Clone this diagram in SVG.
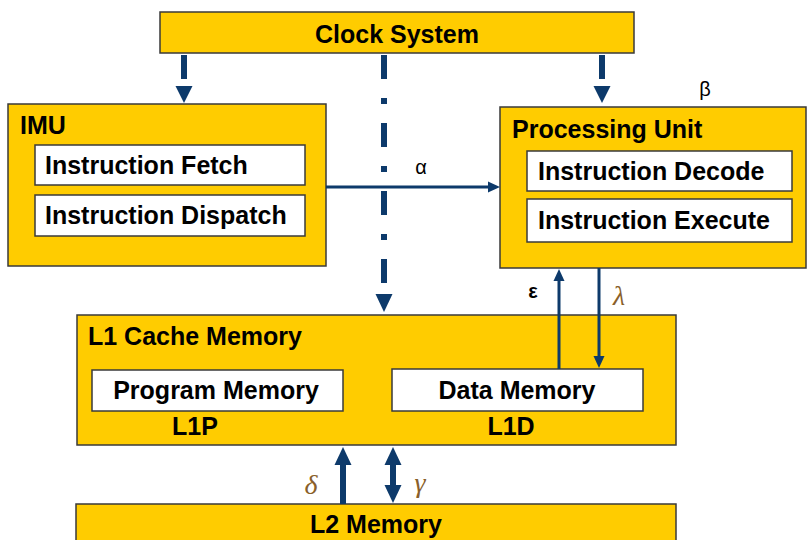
<svg xmlns="http://www.w3.org/2000/svg" width="807" height="540" viewBox="0 0 807 540">
<style>
.box{fill:#FFCC00;stroke:#3a3a3a;stroke-width:1.5}
.inner{fill:#FFFFFF;stroke:#3a3a3a;stroke-width:1.5}
.t{font-family:"Liberation Sans",Arial,sans-serif;font-weight:bold;font-size:25px;fill:#000}
.c{text-anchor:middle}
.thick{stroke:#0d3a6b;stroke-width:6;fill:none}
.thin{stroke:#0d3a6b;stroke-width:3;fill:none}
.head{fill:#0d3a6b}
.greek{font-family:"Liberation Sans",Arial,sans-serif;font-size:20px;fill:#000}
.math{font-family:"Liberation Serif","Times New Roman",serif;font-style:italic;font-size:28px;fill:#8a5f2a}
</style>
<defs>
<marker id="ah" markerUnits="userSpaceOnUse" markerWidth="12" markerHeight="12" refX="0" refY="5.5" orient="auto-start-reverse" viewBox="0 0 12 11">
<path d="M0,0 L12,5.5 L0,11 z" fill="#0d3a6b"/>
</marker>
<marker id="bh" markerUnits="userSpaceOnUse" markerWidth="18" markerHeight="18" refX="0" refY="8.5" orient="auto-start-reverse" viewBox="0 0 18 17">
<path d="M0,0 L18,8.5 L0,17 z" fill="#0d3a6b"/>
</marker>
</defs>

<g id="clock">
<rect class="box" x="160" y="12" width="474" height="41"/>
<text class="t c" x="397" y="43">Clock System</text>
</g>

<g id="imu">
<rect class="box" x="8" y="104" width="318" height="162"/>
<text class="t" x="20" y="134">IMU</text>
<rect class="inner" x="35" y="145" width="270" height="40"/>
<text class="t" x="45" y="174">Instruction Fetch</text>
<rect class="inner" x="35" y="195" width="270" height="41"/>
<text class="t" x="45" y="224">Instruction Dispatch</text>
</g>

<g id="pu">
<rect class="box" x="500" y="107" width="306" height="161"/>
<text class="t" x="512" y="138">Processing Unit</text>
<rect class="inner" x="527" y="151" width="265" height="40"/>
<text class="t" x="538" y="180">Instruction Decode</text>
<rect class="inner" x="527" y="199" width="265" height="43"/>
<text class="t" x="538" y="229">Instruction Execute</text>
</g>

<g id="l1">
<rect class="box" x="77" y="315" width="599" height="130"/>
<text class="t" x="88" y="345">L1 Cache Memory</text>
<rect class="inner" x="92" y="370" width="251" height="41"/>
<text class="t c" x="216" y="399">Program Memory</text>
<rect class="inner" x="392" y="369" width="251" height="42"/>
<text class="t c" x="517" y="399">Data Memory</text>
<text class="t c" x="195" y="435">L1P</text>
<text class="t c" x="511" y="435">L1D</text>
</g>

<g id="l2">
<rect class="box" x="76" y="504" width="600" height="45"/>
<text class="t c" x="376" y="533">L2 Memory</text>
</g>

<g id="connectors">
<line class="thick" x1="184" y1="55" x2="184" y2="79"/>
<polygon class="head" points="175.5,86 192.5,86 184,103"/>
<line class="thick" x1="602" y1="55" x2="602" y2="79"/>
<polygon class="head" points="593.5,86 610.5,86 602,103"/>
<line class="thick" x1="384" y1="55" x2="384" y2="285" stroke-dasharray="24 19 6 19"/>
<polygon class="head" points="375.5,294 392.5,294 384,312"/>
<line class="thin" x1="326" y1="187" x2="488" y2="187" marker-end="url(#ah)"/>
<line class="thin" x1="559" y1="369" x2="559" y2="281" marker-end="url(#ah)"/>
<line class="thin" x1="599" y1="268" x2="599" y2="356" marker-end="url(#ah)"/>
<line class="thick" x1="343" y1="504" x2="343" y2="465" marker-end="url(#bh)"/>
<line class="thick" x1="393" y1="465" x2="393" y2="485" marker-start="url(#bh)" marker-end="url(#bh)"/>
<text class="greek" x="421" y="174" text-anchor="middle">α</text>
<text class="greek" x="705" y="96" text-anchor="middle" font-size="24">β</text>
<text class="greek" x="533" y="298" text-anchor="middle" font-weight="bold" font-size="24">ε</text>
<text class="math" x="619" y="305" text-anchor="middle">λ</text>
<text class="math" x="311" y="494" text-anchor="middle">δ</text>
<text class="math" x="420" y="492" text-anchor="middle">γ</text>
</g>
</svg>
